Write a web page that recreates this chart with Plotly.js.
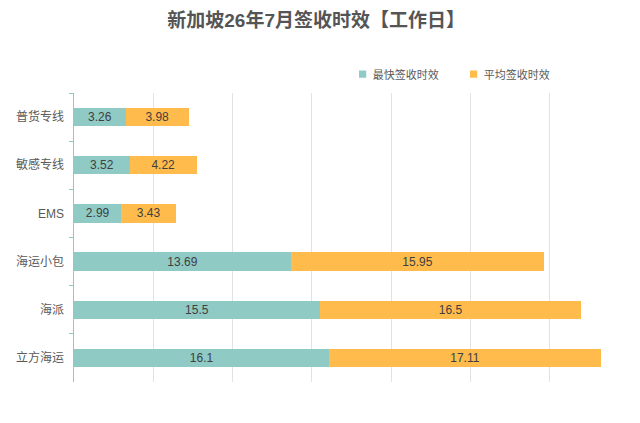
<!DOCTYPE html>
<html><head><meta charset="utf-8">
<script src="https://cdn.plot.ly/plotly-3.0.1.min.js"></script>
<style>html,body{margin:0;padding:0;background:#fff}#chart{width:640px;height:423px}</style>
</head><body><div id="chart"></div>
<script>
const categories = ["普货专线","敏感专线","EMS","海运小包","海派","立方海运"];
const fastest = [3.26, 3.52, 2.99, 13.69, 15.5, 16.1];
const average = [3.98, 4.22, 3.43, 15.95, 16.5, 17.11];
const seriesNames = ["最快签收时效","平均签收时效"];
const gridValues = [5, 10, 15, 20, 25, 30, 35];
const font = '"Liberation Sans", "Noto Sans CJK SC", sans-serif';
const mk = (vals, name, color) => ({
  type: 'bar', orientation: 'h', y: categories, x: vals, name: name,
  marker: {color: color}, width: 0.38,
  text: vals.map(String), textposition: 'inside', insidetextanchor: 'middle', constraintext: 'none',
  textfont: {color: '#404040', size: 12, family: font}, hoverinfo: 'none'
});
const data = [mk(fastest, seriesNames[0], '#8FCAC5'), mk(average, seriesNames[1], '#FFBC4C')];
const layout = {
  width: 640, height: 423, barmode: 'stack',
  margin: {l: 74, r: 11, t: 93, b: 41},
  paper_bgcolor: '#fff', plot_bgcolor: '#fff',
  font: {family: font, color: '#595959'},
  title: {text: '<b>新加坡26年7月签收时效【工作日】</b>', x: 0.494, xanchor: 'center', y: 0.952, yanchor: 'middle',
          font: {size: 19, color: '#555555', family: font}},
  showlegend: true,
  legend: {orientation: 'h', x: 0.866, xanchor: 'right', y: 1.065, yanchor: 'middle',
           font: {size: 11, color: '#595959'}, traceorder: 'normal', itemwidth: 30},
  xaxis: {range: [0, 35], tickmode: 'array', tickvals: gridValues, showgrid: true, gridcolor: '#e2e2e2', gridwidth: 1,
          showticklabels: false, zeroline: false, showline: false, ticks: ''},
  yaxis: {type: 'category', autorange: 'reversed', showline: true, linecolor: '#8FCAC5', linewidth: 1,
          ticks: 'outside', tickson: 'boundaries', ticklen: 4, tickcolor: '#8FCAC5',
          tickfont: {size: 12, color: '#595959'}, showgrid: false, ticksuffix: '  '}
};
Plotly.newPlot('chart', data, layout, {displayModeBar: false, staticPlot: true}).then(gd => {
  gd.querySelectorAll('.legend .legendpoints path').forEach(p => {
    p.setAttribute('transform', 'translate(30,0) scale(0.6)');
  });
});
</script></body></html>
